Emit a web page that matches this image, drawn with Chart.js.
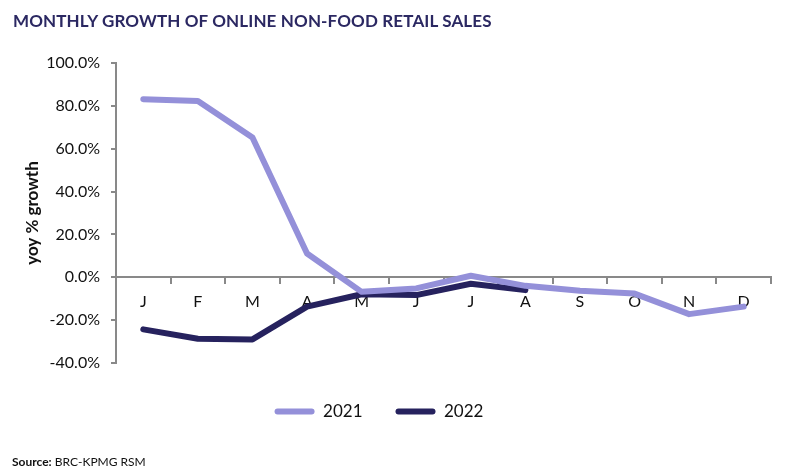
<!DOCTYPE html>
<html>
<head>
<meta charset="utf-8">
<script src="https://cdn.jsdelivr.net/npm/chart.js@4"></script>
<style>
  body { margin: 0; background: #fff; }
  #wrap { position: relative; width: 789px; height: 476px; }
  #title {
    position: absolute; left: 13px; top: 10px;
    font: bold 17px Lato, sans-serif; color: #2b2862;
    letter-spacing: 0.13px; white-space: nowrap;
  }
  #source {
    position: absolute; left: 12px; top: 454px;
    font: 12px Lato, sans-serif; color: #111;
  }
  canvas { position: absolute; left: 0; top: 0; }
</style>
</head>
<body>
<div id="wrap">
  <canvas id="chart" width="789" height="476"></canvas>
  <div id="title">MONTHLY GROWTH OF ONLINE NON-FOOD RETAIL SALES</div>
  <div id="source"><b>Source:</b> BRC-KPMG RSM</div>
</div>
<script>
const months = ["J", "F", "M", "A", "M", "J", "J", "A", "S", "O", "N", "D"];
const growth2021 = [83.1, 82.3, 65.2, 11.1, -6.8, -5.2, 0.7, -4.0, -6.3, -7.6, -17.2, -13.7];
const growth2022 = [-24.3, -28.7, -29.0, -13.7, -7.9, -8.3, -3.0, -6.0, null, null, null, null];
const yTicks = [-40, -20, 0, 20, 40, 60, 80, 100];

const axisGrey = "#898989";

// the legend in the original sits a little left of centre and lower down
const legendShift = {
  id: "legendShift",
  afterLayout(chart) {
    chart.legend.left -= 13;
    chart.legend.right -= 13;
    chart.legend.top += 7;
    chart.legend.bottom += 7;
  },
};

const ctx = document.getElementById("chart").getContext("2d");
const growthChart = new Chart(ctx, {
  type: "line",
  plugins: [legendShift],
  data: {
    labels: months,
    datasets: [
      {
        label: "2021",
        data: growth2021,
        borderColor: "#9490d9",
        backgroundColor: "#9490d9",
        borderWidth: 6,
      },
      {
        label: "2022",
        data: growth2022,
        borderColor: "#26225e",
        backgroundColor: "#26225e",
        borderWidth: 6,
      },
    ],
  },
  options: {
    responsive: false,
    animation: false,
    layout: { padding: { top: 63, left: 13, right: 18, bottom: 53 } },
    elements: {
      point: { radius: 0 },
      line: { borderCapStyle: "round", borderJoinStyle: "round", tension: 0 },
    },
    plugins: {
      tooltip: { enabled: false },
      legend: {
        position: "bottom",
        labels: {
          color: "#111",
          font: { family: "Lato", size: 17 },
          boxWidth: 40,
          boxHeight: 6,
          useBorderRadius: true,
          borderRadius: 3,
          padding: 33,
          generateLabels: (chart) =>
            Chart.defaults.plugins.legend.labels
              .generateLabels(chart)
              .map((item) => ({ ...item, lineWidth: 0 })),
        },
      },
    },
    scales: {
      x: {
        position: { y: 0 },
        offset: true,
        grid: {
          offset: true,
          drawOnChartArea: false,
          tickLength: 6,
          color: axisGrey,
          lineWidth: 2,
        },
        border: { color: axisGrey, width: 2 },
        ticks: {
          color: "#111",
          padding: 9,
          maxRotation: 0,
          font: { family: "Lato", size: 16 },
        },
      },
      y: {
        min: -40,
        max: 100,
        afterFit: (scale) => { scale.width = 103; },
        afterBuildTicks: (scale) => { scale.ticks = yTicks.map((v) => ({ value: v })); },
        grid: {
          drawOnChartArea: false,
          tickLength: 5,
          color: axisGrey,
          lineWidth: 2,
        },
        border: { color: axisGrey, width: 2 },
        title: {
          display: true,
          text: "yoy % growth",
          color: "#111",
          font: { family: "Lato", size: 17, weight: "bold" },
          padding: { top: 9, bottom: 0 },
        },
        ticks: {
          color: "#111",
          padding: 11,
          font: { family: "Lato", size: 16 },
          callback: (v) => v.toFixed(1) + "%",
        },
      },
    },
  },
});
</script>
</body>
</html>
